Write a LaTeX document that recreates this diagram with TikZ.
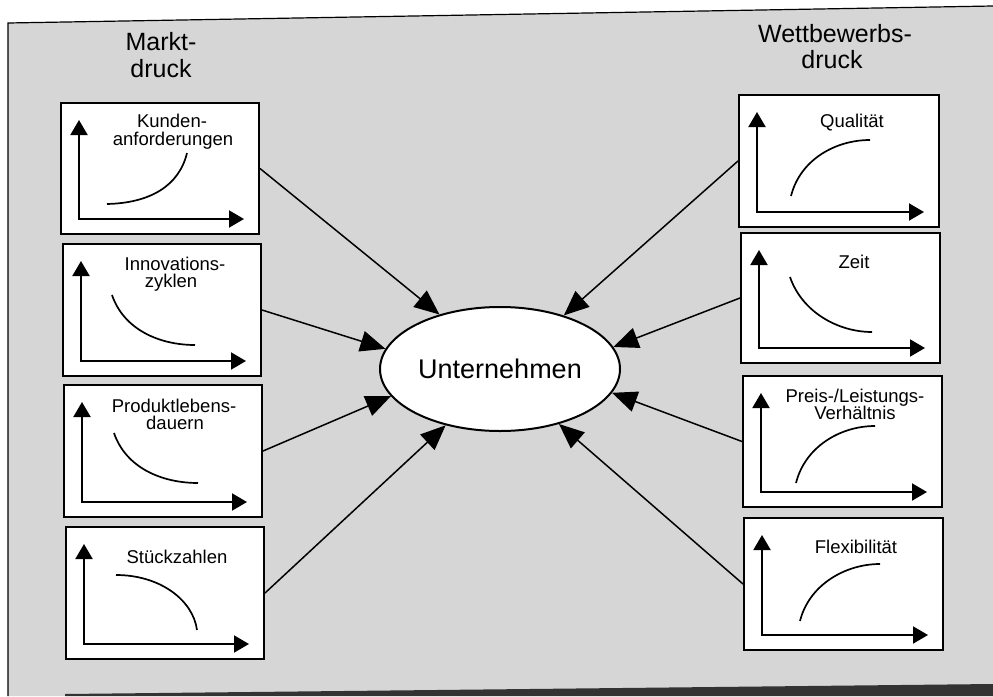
\documentclass[tikz,border=0pt]{standalone}
\usepackage{fontspec}
\setmainfont{Liberation Sans}
\usetikzlibrary{arrows.meta,shapes.geometric}

\tikzset{
  chartbox/.style={draw=black, line width=2pt, fill=white, rectangle, inner sep=0pt},
  axisline/.style={line width=2pt, {Triangle[length=15pt,width=17pt]}-{Triangle[length=15pt,width=17pt]}},
  trend/.style={line width=1.7pt},
  boxlabel/.style={anchor=base, inner sep=0pt, font=\fontsize{18.5}{18}\selectfont},
  title/.style={anchor=base, inner sep=0pt, font=\fontsize{25}{25}\selectfont},
  conn/.style={line width=1.5pt, -{Triangle[length=25pt,width=21pt]}},
  core/.style={ellipse, draw=black, line width=2pt, fill=white, inner sep=0pt,
    minimum width=240pt, minimum height=124pt, font=\fontsize{27}{27}\selectfont}
}

% chart frame with axes: name, left, top, right, bottom
\newcommand{\chartframe}[5]{%
  \node[chartbox, minimum width=#4pt-#2pt, minimum height=#5pt-#3pt]
    (#1) at ({(#2+#4)/2},{(#3+#5)/2}) {};
  \draw[axisline] (#2+18,#3+17) -- (#2+18,#5-15) -- (#4-15,#5-15);
}

\begin{document}
\begin{tikzpicture}[x=1pt,y=-1pt]
\useasboundingbox (0,0) rectangle (993,696);
\fill[white] (0,0) rectangle (993,696);

% printed page area
\fill[black!16] (8,23) -- (993,6) -- (993,696) -- (8,696) -- cycle;
\draw[line width=1.2pt] (8,696) -- (8,23) -- (993,6);
\fill[black!80] (65,694) -- (993,684) -- (993,696) -- (65,696) -- cycle;

% column titles
\node[title] (tl1) at (161,50) {Markt-};
\node[title] (tl2) at (161,77) {druck};
\node[title] (tr1) at (835,42) {Wettbewerbs-};
\node[title] (tr2) at (832,68) {druck};

% left column
\chartframe{b1}{61}{103}{259}{234}
\node[boxlabel] (l1a) at (172,127) {Kunden-};
\node[boxlabel] (l1b) at (173,145) {anforderungen};
\draw[trend] (107,204) .. controls (150,203) and (179,186) .. (187,153);

\chartframe{b2}{63}{244}{261}{376}
\node[boxlabel] (l2a) at (175,270) {Innovations-};
\node[boxlabel] (l2b) at (171,287) {zyklen};
\draw[trend] (112,295) .. controls (124,330) and (160,345) .. (195,345);

\chartframe{b3}{64}{385}{262}{517}
\node[boxlabel] (l3a) at (174,412) {Produktlebens-};
\node[boxlabel] (l3b) at (175,429) {dauern};
\draw[trend] (114,433) .. controls (126,468) and (162,483) .. (198,483);

\chartframe{b4}{66}{527}{264}{659}
\node[boxlabel] (l4a) at (177,563) {Stückzahlen};
\draw[trend] (116,575) .. controls (160,575) and (193,600) .. (197,630);

% right column
\chartframe{r1}{739}{95}{939}{227}
\node[boxlabel] (m1a) at (852,127) {Qualität};
\draw[trend] (791,196) .. controls (800,160) and (835,140) .. (870,140);

\chartframe{r2}{741}{233}{940}{363}
\node[boxlabel] (m2a) at (854,268) {Zeit};
\draw[trend] (790,277) .. controls (802,312) and (838,332) .. (872,332);

\chartframe{r3}{743}{376}{942}{507}
\node[boxlabel] (m3a) at (855,402) {Preis-/Leistungs-};
\node[boxlabel] (m3b) at (855,419) {Verhältnis};
\draw[trend] (796,483) .. controls (805,447) and (840,426) .. (875,426);

\chartframe{r4}{744}{518}{943}{650}
\node[boxlabel] (m4a) at (856,553) {Flexibilität};
\draw[trend] (800,621) .. controls (809,585) and (845,564) .. (880,564);

% company in the middle
\node[core] (u) at (500,369) {Unternehmen};

% pressure arrows
\draw[conn] (b1.east) -- (u.138);
\draw[conn] (b2.east) -- (u.170);
\draw[conn] (b3.east) -- (u.194);
\draw[conn] (b4.east) -- (u.226);
\draw[conn] (r1.west) -- (u.40);
\draw[conn] (r2.west) -- (u.11);
\draw[conn] (r3.west) -- (u.-12);
\draw[conn] (r4.west) -- (u.-43);
\end{tikzpicture}
\end{document}
